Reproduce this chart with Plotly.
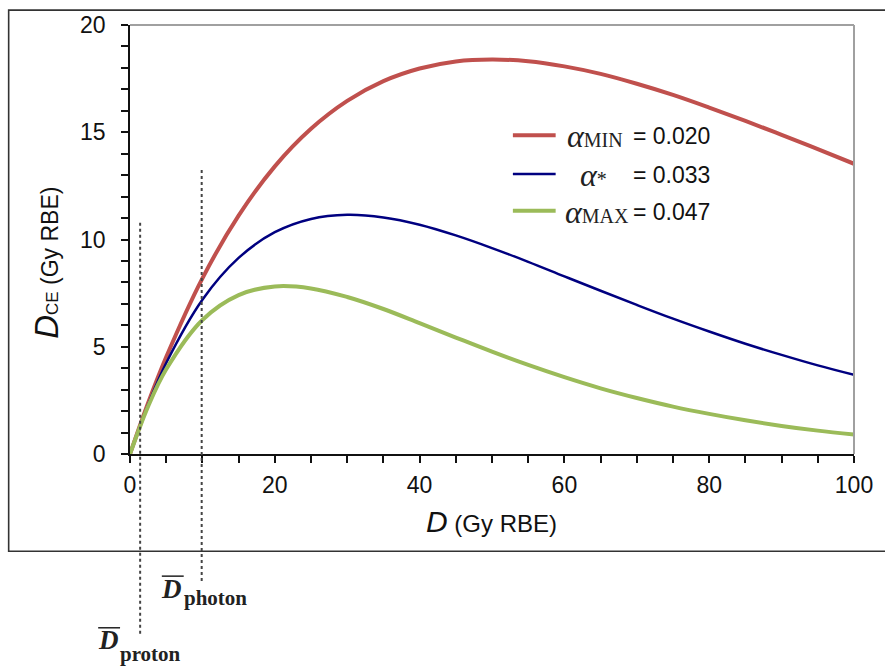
import plotly.graph_objects as go

# ---- data ----
dose = [0, 2.5, 5, 10, 15, 20, 25, 30, 35, 40, 45, 50, 55, 60, 65, 70, 75, 80, 85, 90, 95, 100]
dce_alpha_min = [0, 2.38, 4.52, 8.19, 11.11, 13.41, 15.16, 16.46, 17.38, 17.97, 18.30, 18.39,
                 18.31, 18.07, 17.72, 17.26, 16.74, 16.15, 15.53, 14.88, 14.21, 13.53]
dce_alpha_star = [0, 2.30, 4.24, 7.19, 9.14, 10.34, 10.96, 11.15, 11.03, 10.69, 10.19, 9.60,
                  8.96, 8.28, 7.61, 6.95, 6.31, 5.71, 5.14, 4.62, 4.13, 3.69]
dce_alpha_max = [0, 2.22, 3.95, 6.25, 7.41, 7.81, 7.72, 7.32, 6.76, 6.10, 5.43, 4.77,
                 4.15, 3.58, 3.06, 2.61, 2.21, 1.87, 1.57, 1.31, 1.09, 0.91]
series_names = ["MIN", "*", "MAX"]
alpha_labels = ["0.020", "0.033", "0.047"]
colors = ["#C0504D", "#000080", "#9BBB59"]
widths = [4, 2.5, 4]
mean_dose_proton = 1.4
mean_dose_photon = 9.9
x_ticks = [0, 20, 40, 60, 80, 100]
y_ticks = [0, 5, 10, 15, 20]

W, H = 885, 666
L, R, T, B = 130, 858, 22, 454


def px(xp):
    return (xp - L) / (R - L)


def py(yp):
    return (B - yp) / (B - T)


fig = go.Figure()
for ys, c, w in zip([dce_alpha_min, dce_alpha_star, dce_alpha_max], colors, widths):
    fig.add_trace(go.Scatter(x=dose, y=ys, mode="lines", line=dict(color=c, width=w, shape="spline", smoothing=1.0),
                             showlegend=False, cliponaxis=False))

shapes = []
annotations = []
# outer frame
shapes.append(dict(type="rect", xref="paper", yref="paper", x0=px(8), x1=px(895), y0=py(552), y1=py(7),
                   line=dict(color="#333333", width=1.6), layer="below"))
# plot area top/right border in grey
shapes.append(dict(type="line", xref="paper", yref="paper", x0=0, x1=1, y0=1, y1=1,
                   line=dict(color="#A0A0A0", width=2)))
shapes.append(dict(type="line", xref="paper", yref="paper", x0=1, x1=1, y0=0, y1=1,
                   line=dict(color="#A0A0A0", width=2)))
# dotted mean-dose lines
shapes.append(dict(type="line", xref="x", yref="paper", x0=mean_dose_proton, x1=mean_dose_proton,
                   y0=py(635), y1=py(218), line=dict(color="#444444", width=2, dash="dot")))
shapes.append(dict(type="line", xref="x", yref="paper", x0=mean_dose_photon, x1=mean_dose_photon,
                   y0=py(582), y1=py(165), line=dict(color="#444444", width=2, dash="dot")))

# legend (manual)
rows_y = [133, 172, 209]
alpha_x = [567, 580, 565]
for i in range(3):
    shapes.append(dict(type="line", xref="paper", yref="paper", x0=px(515), x1=px(558),
                       y0=py(rows_y[i]), y1=py(rows_y[i]), line=dict(color=colors[i], width=widths[i])))
    annotations.append(dict(xref="paper", yref="paper", x=px(alpha_x[i]), y=py(rows_y[i] + 1),
                            xanchor="left", yanchor="middle", showarrow=False,
                            text="<i>α</i><span style='font-size:20px'>" + series_names[i] + "</span>",
                            font=dict(family="Liberation Serif", size=32, color="#222222")))
    annotations.append(dict(xref="paper", yref="paper", x=px(634), y=py(rows_y[i] + 1),
                            xanchor="left", yanchor="middle", showarrow=False,
                            text="= " + alpha_labels[i],
                            font=dict(family="Liberation Sans", size=23, color="#111111")))

# axis titles
annotations.append(dict(xref="paper", yref="paper", x=px(493), y=py(522), xanchor="center", yanchor="middle",
                        showarrow=False,
                        text="<i><span style='font-size:30px'>D</span></i> (Gy RBE)",
                        font=dict(family="Liberation Sans", size=24, color="#111111")))
annotations.append(dict(xref="paper", yref="paper", x=px(46), y=py(261), xanchor="center", yanchor="middle",
                        showarrow=False, textangle=-90,
                        text="<i><span style='font-size:33px'>D</span></i><span style='font-size:17px'>CE</span> (Gy RBE)",
                        font=dict(family="Liberation Sans", size=23, color="#111111")))

# mean dose labels
for (ox0, ox1, oy, dx, dy, sx, sy, sub) in [
        (162, 184, 577, 172, 590, 182, 599, "photon"),
        (98, 120, 629, 108, 641, 118, 655, "proton")]:
    shapes.append(dict(type="line", xref="paper", yref="paper", x0=px(ox0), x1=px(ox1), y0=py(oy), y1=py(oy),
                       line=dict(color="#222222", width=1.5)))
    annotations.append(dict(xref="paper", yref="paper", x=px(dx), y=py(dy), xanchor="center", yanchor="middle",
                            showarrow=False, text="<b><i>D</i></b>",
                            font=dict(family="Liberation Serif", size=27, color="#222222")))
    annotations.append(dict(xref="paper", yref="paper", x=px(sx), y=py(sy), xanchor="left", yanchor="middle",
                            showarrow=False, text="<b>" + sub + "</b>",
                            font=dict(family="Liberation Serif", size=21, color="#222222")))

fig.update_layout(
    width=W, height=H,
    margin=dict(l=L, r=W - R, t=T, b=H - B),
    paper_bgcolor="white", plot_bgcolor="white",
    shapes=shapes, annotations=annotations,
    showlegend=False,
    xaxis=dict(range=[0, 100], tickvals=x_ticks, ticks="outside", ticklen=7, tickwidth=1.5, tickcolor="#111111",
               showgrid=False, zeroline=False, showline=True, linecolor="#111111", linewidth=1.5,
               tickfont=dict(family="Liberation Sans", size=23, color="#111111"), ticklabelstandoff=3,
               minor=dict(dtick=5, ticks="outside", ticklen=7, tickwidth=1.5, tickcolor="#111111", showgrid=False)),
    yaxis=dict(range=[0, 20], tickvals=y_ticks, ticks="outside", ticklen=7, tickwidth=1.5, tickcolor="#111111",
               showgrid=False, zeroline=False, showline=True, linecolor="#111111", linewidth=1.5,
               tickfont=dict(family="Liberation Sans", size=23, color="#111111"), ticklabelstandoff=11,
               minor=dict(dtick=1, ticks="outside", ticklen=7, tickwidth=1.5, tickcolor="#111111", showgrid=False)),
)

fig.write_html("out.html")
